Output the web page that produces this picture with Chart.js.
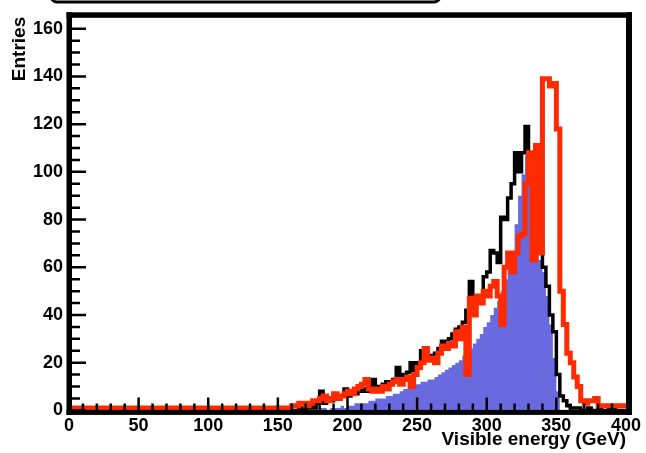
<!DOCTYPE html>
<html>
<head>
<meta charset="utf-8">
<script src="https://cdn.jsdelivr.net/npm/chart.js@4/dist/chart.umd.min.js"></script>
<style>
  html, body { margin: 0; padding: 0; background: #ffffff; }
  #wrap { position: relative; width: 646px; height: 453px; }
</style>
</head>
<body>
<div id="wrap"><canvas id="c" width="646" height="453"></canvas></div>
<script>
// Histogram binning: the first entry of each series is the flat level over 0-160 GeV,
// the remaining entries are 2.5 GeV bins starting at 160 GeV.
const binStart = 160;
const binWidth = 2.5;
const xMax = 400;

const yTicks = [0, 20, 40, 60, 80, 100, 120, 140, 160];
const xTicks = [0, 50, 100, 150, 200, 250, 300, 350, 400];

const blackCounts = [
  0,
  0, 0, 0, 1, 0, 1, 2, 1, 3, 8,
  3, 4, 4, 6, 5, 6, 9, 6, 7, 7,
  8, 9, 8, 10, 13, 9, 10, 11, 12, 11,
  13, 18, 13, 15, 16, 20, 16, 20, 25, 21,
  23, 22, 24, 26, 29, 27, 30, 32, 34, 35,
  37, 42, 54, 48, 45, 47, 56, 58, 67, 66,
  62, 81, 80, 89, 95, 108, 100, 108, 119, 105,
  100, 96, 96, 60, 52, 40, 33, 15, 6, 4,
  2, 1, 1, 1, 0, 0, 1, 0, 0, 1,
  0, 0, 2, 1, 0, 0
];

const blueCounts = [
  0,
  0, 0, 0, 0, 0, 0, 0, 0, 0, 1,
  1, 0, 1, 1, 1, 2, 1, 2, 2, 3,
  3, 3, 3, 4, 4, 5, 5, 5, 6, 6,
  7, 7, 8, 9, 9, 9, 11, 11, 12, 12,
  13, 13, 14, 15, 16, 17, 18, 19, 20, 21,
  23, 24, 26, 28, 30, 32, 35, 37, 40, 43,
  46, 50, 55, 60, 66, 78, 90, 99, 107, 100,
  96, 90, 63, 58, 48, 36, 22, 8, 0, 0,
  0, 0, 0, 0, 0, 0, 0, 0, 0, 0,
  0, 0, 0, 0, 0, 0
];

const redCounts = [
  1,
  1, 2, 2, 3, 3, 2, 3, 4, 4, 5,
  6, 4, 5, 7, 5, 6, 7, 8, 7, 9,
  10, 11, 13, 9, 8, 9, 8, 10, 9, 11,
  12, 13, 11, 13, 14, 10, 15, 18, 20, 26,
  21, 22, 20, 24, 27, 26, 28, 27, 33, 30,
  35, 15, 47, 40, 48, 45, 50, 48, 52, 54,
  48, 36, 60, 66, 58, 66, 73, 74, 95, 108,
  63, 111, 66, 139, 139, 136, 137, 118, 50, 36,
  24, 20, 14, 10, 4, 3, 4, 4, 5, 2,
  2, 2, 2, 2, 2, 2
];

// Turn per-bin counts into step points at the bin lower edges (plus the closing edge).
function histPoints(counts) {
  const pts = counts.map((v, i) => ({
    x: i === 0 ? 0 : binStart + (i - 1) * binWidth,
    y: v
  }));
  pts.push({ x: xMax, y: counts[counts.length - 1] });
  return pts;
}

const FONT = '"Liberation Sans", Arial, Helvetica, sans-serif';

// Thick frame, inward ticks, the y-axis title and the edge of the title box.
const frameAndTicks = {
  id: 'frameAndTicks',
  afterDatasetsDraw(chart) {
    const { ctx, chartArea: a, scales: { x, y } } = chart;
    ctx.save();
    ctx.fillStyle = '#000';
    // frame
    ctx.fillRect(a.left - 2.5, a.top - 4.5, 5.5, a.bottom - a.top + 9);        // left
    ctx.fillRect(a.left - 2.5, a.bottom - 0.5, a.right - a.left + 8.5, 5);      // bottom
    ctx.fillRect(a.right, a.top - 4.5, 6, a.bottom - a.top + 9);                // right
    ctx.fillRect(a.left - 2.5, a.top - 4.5, a.right - a.left + 8.5, 5.5);       // top

    ctx.strokeStyle = '#000';
    ctx.lineWidth = 2.5;
    ctx.beginPath();
    // y ticks: major every 20, minor every 5
    for (let v = 0; v <= 165; v += 5) {
      const py = y.getPixelForValue(v);
      if (py < a.top + 2) continue;
      const len = (v % 20 === 0) ? 17 : 11;
      ctx.moveTo(a.left, py);
      ctx.lineTo(a.left + len, py);
    }
    // x ticks: major every 50, minor every 10
    for (let v = 10; v < xMax; v += 10) {
      const px = x.getPixelForValue(v);
      const len = (v % 50 === 0) ? 13 : 7;
      ctx.moveTo(px, a.bottom);
      ctx.lineTo(px, a.bottom - len);
    }
    ctx.stroke();

    // y-axis title, right-aligned to the top of the axis
    ctx.font = 'bold 19px ' + FONT;
    ctx.textAlign = 'right';
    ctx.textBaseline = 'middle';
    ctx.translate(20, a.top);
    ctx.rotate(-Math.PI / 2);
    ctx.fillText('Entries', 0, 0);
    ctx.setTransform(1, 0, 0, 1, 0, 0);

    // lower edge of the title box at the top of the canvas
    ctx.lineWidth = 3;
    ctx.beginPath();
    ctx.roundRect(51, -24, 389, 26, 6);
    ctx.stroke();
    ctx.restore();
  }
};

new Chart(document.getElementById('c'), {
  type: 'line',
  data: {
    datasets: [
      {
        label: 'red',
        data: histPoints(redCounts),
        stepped: 'after',
        borderColor: '#ff2a00',
        borderWidth: 5,
        borderJoinStyle: 'miter',
        fill: false,
        pointRadius: 0,
        order: 0
      },
      {
        label: 'black',
        data: histPoints(blackCounts),
        stepped: 'after',
        borderColor: '#000000',
        borderWidth: 3.5,
        borderJoinStyle: 'miter',
        fill: false,
        pointRadius: 0,
        order: 1
      },
      {
        label: 'blue',
        data: histPoints(blueCounts),
        stepped: 'after',
        borderColor: 'rgba(0,0,0,0)',
        borderWidth: 1,
        backgroundColor: '#6a6ae0',
        fill: 'origin',
        pointRadius: 0,
        order: 2
      }
    ]
  },
  options: {
    responsive: false,
    animation: false,
    devicePixelRatio: 1,
    layout: { padding: { top: 10, right: 16.5, left: 0, bottom: 0 } },
    plugins: { legend: { display: false }, tooltip: { enabled: false } },
    scales: {
      x: {
        type: 'linear',
        min: 0,
        max: xMax,
        afterFit: s => { s.height = 42.6; },
        afterBuildTicks: s => { s.ticks = xTicks.map(v => ({ value: v })); },
        grid: { display: false, drawTicks: false },
        border: { display: false },
        ticks: {
          autoSkip: false, maxRotation: 0, padding: 5, color: '#000',
          font: { family: FONT, size: 18, weight: 'bold' }
        },
        title: {
          display: true, text: 'Visible energy (GeV)', align: 'end', color: '#000',
          font: { family: FONT, size: 19, weight: 'bold' },
          padding: { top: 0, bottom: 2 }
        }
      },
      y: {
        min: 0,
        max: 165,
        afterFit: s => { s.width = 69; },
        afterBuildTicks: s => { s.ticks = yTicks.map(v => ({ value: v })); },
        grid: { display: false, drawTicks: false },
        border: { display: false },
        ticks: {
          autoSkip: false, padding: 6, color: '#000',
          font: { family: FONT, size: 18, weight: 'bold' }
        }
      }
    }
  },
  plugins: [frameAndTicks]
});
</script>
</body>
</html>
